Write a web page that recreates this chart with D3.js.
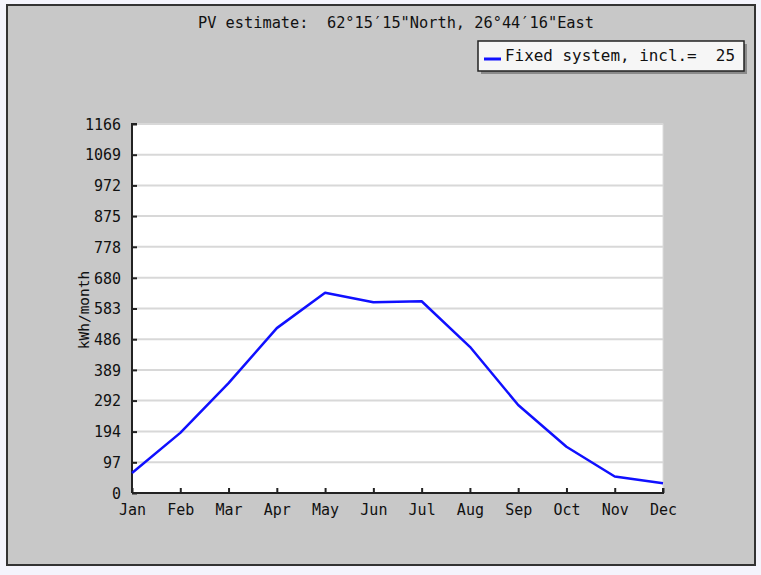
<!DOCTYPE html>
<html><head><meta charset="utf-8">
<script src="https://cdn.jsdelivr.net/npm/d3@7"></script>
<style>
html,body{margin:0;padding:0;background:#f4f4fc;}
svg{display:block;}
</style></head>
<body>
<script>
const months = ["Jan","Feb","Mar","Apr","May","Jun","Jul","Aug","Sep","Oct","Nov","Dec"];
const values = [63, 190, 347, 521, 633, 603, 606, 462, 278, 146, 52, 31];
const yTicks = [0,97,194,292,389,486,583,680,778,875,972,1069,1166];
const title = "PV estimate:  62°15′15\"North, 26°44′16\"East";
const legendLabel = "Fixed system, incl.=  25";
const yLabel = "kWh/month";

const W = 761, H = 575;
const svg = d3.select("body").append("svg").attr("width", W).attr("height", H);

// panel
svg.append("rect").attr("x",7).attr("y",5).attr("width",748).attr("height",560)
  .attr("fill","#c8c8c8").attr("stroke","#333").attr("stroke-width",2);

const x0 = 132, x1 = 663, y0 = 493, y1 = 124;
const x = d3.scalePoint().domain(months).range([x0, x1]);
const y = d3.scaleLinear().domain([0, 1166]).range([y0, y1]);

// plot bg
svg.append("rect").attr("x",x0).attr("y",y1).attr("width",x1-x0).attr("height",y0-y1)
  .attr("fill","#fff").attr("stroke","#dcdcdc").attr("stroke-width",1);

// grid
svg.append("g").selectAll("line").data(yTicks.slice(1)).join("line")
  .attr("x1",x0).attr("x2",x1).attr("y1",d=>y(d)).attr("y2",d=>y(d))
  .attr("stroke","#d8d8d8").attr("stroke-width",2);

const mono = "'DejaVu Sans Mono', monospace";

// y axis
const ya = svg.append("g").attr("transform",`translate(${x0},0)`)
  .call(d3.axisRight(y).tickValues(yTicks).tickSize(5).tickFormat(d3.format("d")));
ya.select(".domain").attr("stroke","#222").attr("stroke-width",2).attr("d",`M5,${y1}H0V${y0}`);
ya.selectAll(".tick line").attr("stroke","#222").attr("stroke-width",2);
ya.selectAll(".tick text").attr("x",-11).attr("text-anchor","end").attr("dy","0.35em")
  .attr("fill","#111").style("font-family",mono).style("font-size","15px");

// x axis
const xa = svg.append("g").attr("transform",`translate(0,${y0})`)
  .call(d3.axisTop(x).tickSize(5));
xa.select(".domain").attr("stroke","#222").attr("stroke-width",2).attr("d",`M${x0},0H${x1}V-5`);
xa.selectAll(".tick line").attr("stroke","#222").attr("stroke-width",2);
xa.selectAll(".tick text").attr("y",22).attr("dy","0").attr("fill","#111")
  .style("font-family",mono).style("font-size","15px");

// line
svg.append("path").datum(values)
  .attr("d", d3.line().x((d,i)=>x(months[i])).y(d=>y(d)))
  .attr("fill","none").attr("stroke","#1010ff").attr("stroke-width",2.5).attr("stroke-linejoin","round");

// y label
svg.append("text").attr("transform","translate(89,310) rotate(-90)")
  .attr("text-anchor","middle").attr("fill","#111")
  .style("font-family",mono).style("font-size","14.5px").text(yLabel);

// title
svg.append("text").attr("x",396).attr("y",28).attr("text-anchor","middle").attr("fill","#111")
  .style("font-family",mono).style("font-size","15.3px").attr("xml:space","preserve").text(title);

// legend
svg.append("rect").attr("x",481).attr("y",44).attr("width",266).attr("height",30).attr("fill","#8a8a8a");
svg.append("rect").attr("x",478).attr("y",41).attr("width",266).attr("height",30)
  .attr("fill","#f6f6f6").attr("stroke","#222").attr("stroke-width",1.5);
svg.append("line").attr("x1",484).attr("x2",501).attr("y1",59).attr("y2",59)
  .attr("stroke","#1010ff").attr("stroke-width",3);
svg.append("text").attr("x",505).attr("y",61).attr("fill","#111").attr("xml:space","preserve")
  .attr("textLength",230).attr("lengthAdjust","spacingAndGlyphs")
  .style("font-family",mono).style("font-size","16px").text(legendLabel);
</script>
</body></html>
